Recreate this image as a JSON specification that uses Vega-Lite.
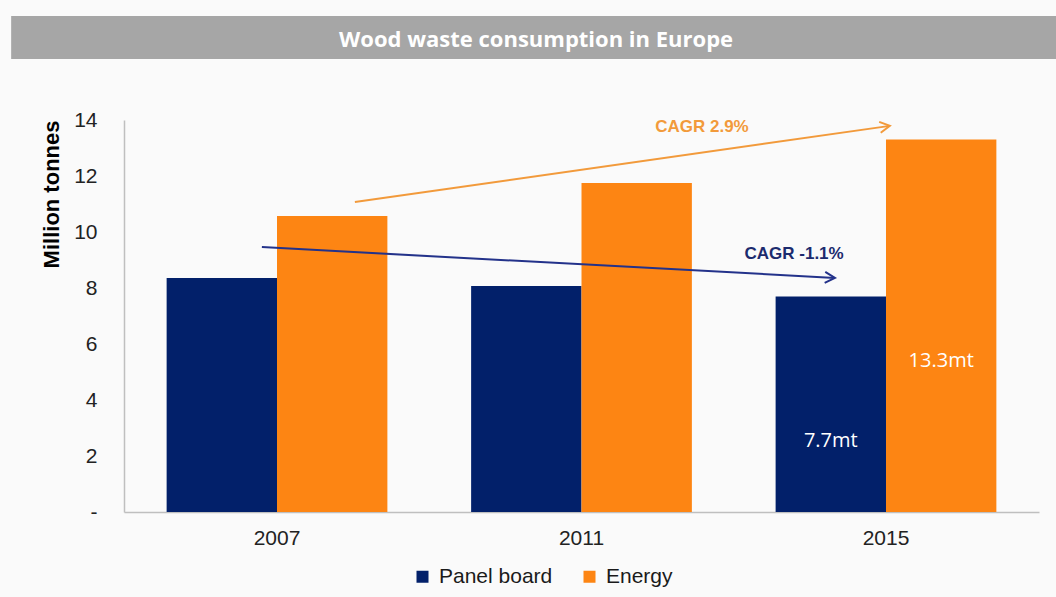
{
  "$schema": "https://vega.github.io/schema/vega-lite/v6.json",
  "width": 915,
  "height": 392,
  "autosize": "none",
  "padding": {"left": 124, "top": 120, "right": 17, "bottom": 85},
  "background": "#fafafa",
  "config": {"view": {"stroke": null}, "font": "Liberation Sans"},
  "data": {
    "values": [
      {"year": "2007", "series": "Panel board", "value": 8.36, "label": ""},
      {"year": "2007", "series": "Energy", "value": 10.57, "label": ""},
      {"year": "2011", "series": "Panel board", "value": 8.07, "label": ""},
      {"year": "2011", "series": "Energy", "value": 11.75, "label": ""},
      {"year": "2015", "series": "Panel board", "value": 7.7, "label": "7.7mt"},
      {"year": "2015", "series": "Energy", "value": 13.3, "label": "13.3mt"}
    ]
  },
  "layer": [
    {
      "layer": [
        {
          "mark": {"type": "bar"},
          "encoding": {
            "x": {
              "field": "year", "type": "nominal",
              "scale": {"paddingInner": 0.275, "paddingOuter": 0.14},
              "axis": {"title": null, "labelAngle": 0, "ticks": false, "domainColor": "#bfbfbf", "domainWidth": 1.5, "labelFontSize": 21, "labelPadding": 15, "labelColor": "#222222"}
            },
            "xOffset": {"field": "series", "type": "nominal", "scale": {"domain": ["Panel board", "Energy"], "paddingInner": 0, "paddingOuter": 0}},
            "y": {
              "field": "value", "type": "quantitative",
              "title": "Million tonnes",
              "scale": {"domain": [0, 14]},
              "axis": {
                "title": "Million tonnes", "values": [0, 2, 4, 6, 8, 10, 12, 14], "grid": false, "ticks": false, "tickSize": 0,
                "domainColor": "#bfbfbf", "domainWidth": 1.5, "labelFontSize": 21, "labelPadding": 27, "labelColor": "#222222",
                "labelExpr": "datum.value === 0 ? '-\u00a0\u00a0' : datum.label",
                "titleFontSize": 22, "titleFontWeight": "bold", "titleColor": "#000000", "titleAnchor": "end", "titlePadding": 10
              }
            },
            "color": {
              "field": "series", "type": "nominal",
              "scale": {"domain": ["Panel board", "Energy"], "range": ["#02206A", "#FD8513"]},
              "legend": {
                "orient": "none", "legendX": 288, "legendY": 446, "direction": "horizontal", "title": null,
                "symbolType": "square", "symbolSize": 144, "symbolStrokeWidth": 0, "labelFontSize": 21, "labelOffset": 6,
                "columnPadding": 26, "labelColor": "#1a1a1a"
              }
            }
          }
        },
        {
          "transform": [{"filter": "datum.label == '13.3mt'"}],
          "mark": {"type": "text", "font": "Open Sans", "fontSize": 20, "color": "#ffffff", "align": "center", "baseline": "middle"},
          "encoding": {
            "x": {"field": "year", "type": "nominal"},
            "xOffset": {"field": "series", "type": "nominal"},
            "y": {"datum": 5.39, "type": "quantitative", "title": "Million tonnes", "scale": {"domain": [0, 14]}},
            "text": {"field": "label"}
          }
        },
        {
          "transform": [{"filter": "datum.label == '7.7mt'"}],
          "mark": {"type": "text", "font": "Open Sans", "fontSize": 20, "color": "#ffffff", "align": "center", "baseline": "middle"},
          "encoding": {
            "x": {"field": "year", "type": "nominal"},
            "xOffset": {"field": "series", "type": "nominal"},
            "y": {"datum": 2.54, "type": "quantitative", "title": "Million tonnes", "scale": {"domain": [0, 14]}},
            "text": {"field": "label"}
          }
        }
      ]
    },
    {
      "layer": [
        {
          "data": {"values": [{"title": "Wood waste consumption in Europe"}]},
          "layer": [
            {
              "mark": {"type": "rect", "color": "#a6a6a6", "clip": false},
              "encoding": {
                "x": {"datum": -0.37, "type": "quantitative", "scale": {"domain": [0, 3], "nice": false, "zero": false}, "axis": null},
                "x2": {"datum": 3.056},
                "y": {"datum": 17.71, "type": "quantitative", "title": "Million tonnes", "scale": {"domain": [0, 14]}},
                "y2": {"datum": 16.18}
              }
            },
            {
              "mark": {"type": "text", "font": "Open Sans", "fontWeight": "bold", "fontSize": 22, "color": "#ffffff", "align": "center", "baseline": "alphabetic"},
              "encoding": {
                "x": {"datum": 1.351, "type": "quantitative", "scale": {"domain": [0, 3], "nice": false, "zero": false}, "axis": null},
                "y": {"datum": 16.62, "type": "quantitative", "title": "Million tonnes", "scale": {"domain": [0, 14]}},
                "text": {"field": "title"}
              }
            }
          ]
        },
        {
          "data": {"values": [{"label": "CAGR 2.9%"}]},
          "layer": [
            {
              "mark": {"type": "rule", "color": "#F29A3B", "strokeWidth": 2},
              "encoding": {
                "x": {"datum": 0.757, "type": "quantitative", "scale": {"domain": [0, 3], "nice": false, "zero": false}, "axis": null},
                "x2": {"datum": 2.511},
                "y": {"datum": 11.07, "type": "quantitative", "title": "Million tonnes", "scale": {"domain": [0, 14]}},
                "y2": {"datum": 13.79}
              }
            },
            {
              "mark": {"type": "point", "shape": "M-1,-0.55L0,0L-1,0.55", "filled": false, "color": "#F29A3B", "strokeWidth": 2, "size": 400, "angle": 351.9, "opacity": 1},
              "encoding": {
                "x": {"datum": 2.511, "type": "quantitative", "scale": {"domain": [0, 3], "nice": false, "zero": false}, "axis": null},
                "y": {"datum": 13.79, "type": "quantitative", "title": "Million tonnes", "scale": {"domain": [0, 14]}}
              }
            },
            {
              "mark": {"type": "text", "fontWeight": "bold", "fontSize": 17, "color": "#F29A3B", "align": "center", "baseline": "middle"},
              "encoding": {
                "x": {"datum": 1.895, "type": "quantitative", "scale": {"domain": [0, 3], "nice": false, "zero": false}, "axis": null},
                "y": {"datum": 13.75, "type": "quantitative", "title": "Million tonnes", "scale": {"domain": [0, 14]}},
                "text": {"field": "label"}
              }
            }
          ]
        },
        {
          "data": {"values": [{"label": "CAGR -1.1%"}]},
          "layer": [
            {
              "mark": {"type": "rule", "color": "#23328A", "strokeWidth": 2},
              "encoding": {
                "x": {"datum": 0.452, "type": "quantitative", "scale": {"domain": [0, 3], "nice": false, "zero": false}, "axis": null},
                "x2": {"datum": 2.331},
                "y": {"datum": 9.46, "type": "quantitative", "title": "Million tonnes", "scale": {"domain": [0, 14]}},
                "y2": {"datum": 8.36}
              }
            },
            {
              "mark": {"type": "point", "shape": "M-1,-0.55L0,0L-1,0.55", "filled": false, "color": "#23328A", "strokeWidth": 2, "size": 400, "angle": 3.1, "opacity": 1},
              "encoding": {
                "x": {"datum": 2.331, "type": "quantitative", "scale": {"domain": [0, 3], "nice": false, "zero": false}, "axis": null},
                "y": {"datum": 8.36, "type": "quantitative", "title": "Million tonnes", "scale": {"domain": [0, 14]}}
              }
            },
            {
              "mark": {"type": "text", "fontWeight": "bold", "fontSize": 17, "color": "#1C2B6E", "align": "center", "baseline": "middle"},
              "encoding": {
                "x": {"datum": 2.197, "type": "quantitative", "scale": {"domain": [0, 3], "nice": false, "zero": false}, "axis": null},
                "y": {"datum": 9.21, "type": "quantitative", "title": "Million tonnes", "scale": {"domain": [0, 14]}},
                "text": {"field": "label"}
              }
            }
          ]
        }
      ]
    }
  ],
  "resolve": {"scale": {"x": "independent"}}
}
